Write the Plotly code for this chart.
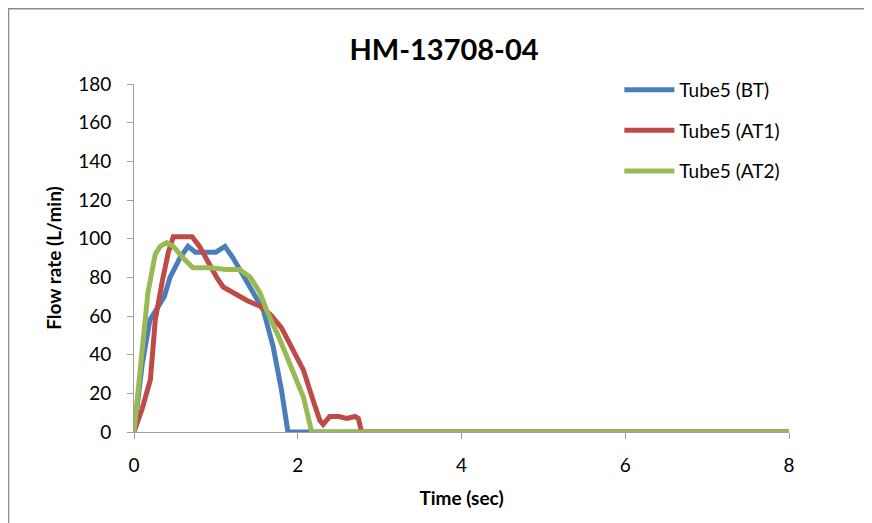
import plotly.graph_objects as go

bt_time = [0, 0.1, 0.195, 0.29, 0.37, 0.44, 0.56, 0.66, 0.75, 0.9, 1.0, 1.11, 1.21, 1.32, 1.42, 1.58, 1.70, 1.80, 1.88, 8]
bt_flow = [0, 35, 58, 65, 70, 80, 90, 96, 93, 93, 93, 96, 90, 82, 75, 63, 44, 22, 0, 0]

at1_time = [0, 0.1, 0.2, 0.26, 0.35, 0.42, 0.48, 0.71, 0.8, 0.89, 1.01, 1.09, 1.21, 1.38, 1.54, 1.66, 1.8, 1.93,
            2.07, 2.19, 2.27, 2.31, 2.39, 2.5, 2.6, 2.7, 2.74, 2.78, 8]
at1_flow = [0, 12, 27, 58, 79, 93, 101, 101, 96, 89, 80, 75, 72, 68, 65, 61, 54, 44,
            32, 16, 6, 4, 8, 8, 7, 8, 7, 0, 0]

at2_time = [0, 0.05, 0.11, 0.17, 0.26, 0.32, 0.4, 0.48, 0.6, 0.72, 0.93, 1.13, 1.29, 1.42, 1.54, 1.62, 1.78, 1.94,
            2.07, 2.17, 8]
at2_flow = [0, 20, 44, 72, 92, 96, 98, 96, 90, 85, 85, 84, 84, 80, 72, 63, 48, 32,
            18, 0, 0]

x_ticks = [0, 2, 4, 6, 8]
y_ticks = [0, 20, 40, 60, 80, 100, 120, 140, 160, 180]

fig = go.Figure()
fig.add_trace(go.Scatter(x=bt_time, y=bt_flow, mode="lines", name="Tube5 (BT)", legendgroup="a",
                         line=dict(color="#4a7ebb", width=5)))
fig.add_trace(go.Scatter(x=at1_time, y=at1_flow, mode="lines", name="Tube5 (AT1)", legendgroup="b",
                         line=dict(color="#be4b48", width=5)))
fig.add_trace(go.Scatter(x=at2_time, y=at2_flow, mode="lines", name="Tube5 (AT2)", legendgroup="c",
                         line=dict(color="#98b954", width=5)))

fig.update_layout(
    width=872, height=523,
    margin=dict(l=126, r=91, t=76, b=99),
    paper_bgcolor="white", plot_bgcolor="white",
    font=dict(family="Lato, Open Sans, sans-serif", size=19, color="black"),
    title=dict(text="<b>HM-13708-04</b>", x=0.5, xanchor="center", y=0.92, yanchor="middle",
               font=dict(size=29)),
    legend=dict(x=0.741, y=1.038, xanchor="left", yanchor="top", font=dict(size=19),
                bgcolor="rgba(0,0,0,0)", tracegroupgap=13, itemwidth=50),
    showlegend=True,
)
fig.update_xaxes(range=[0, 8], tickvals=x_ticks, showgrid=False, zeroline=False,
                 showline=True, linecolor="#a0a0a0", linewidth=1,
                 ticks="outside", ticklen=6, tickcolor="#a0a0a0", ticklabelstandoff=10,
                 title=dict(text="<b>Time (sec)</b>", font=dict(size=19), standoff=16))
fig.update_yaxes(range=[0, 180], tickvals=y_ticks, showgrid=False, zeroline=False,
                 showline=True, linecolor="#a0a0a0", linewidth=1,
                 ticks="outside", ticklen=6, tickcolor="#a0a0a0", ticklabelstandoff=12,
                 title=dict(text="<b>Flow rate (L/min)</b>", font=dict(size=19), standoff=11))

# outer chart border
fig.add_shape(type="rect", xref="paper", yref="paper", x0=-0.1916, x1=1.1206, y0=-0.3, y1=1.216,
              line=dict(color="#8c8c8c", width=1.5), layer="below")

fig.write_html("out.html")
